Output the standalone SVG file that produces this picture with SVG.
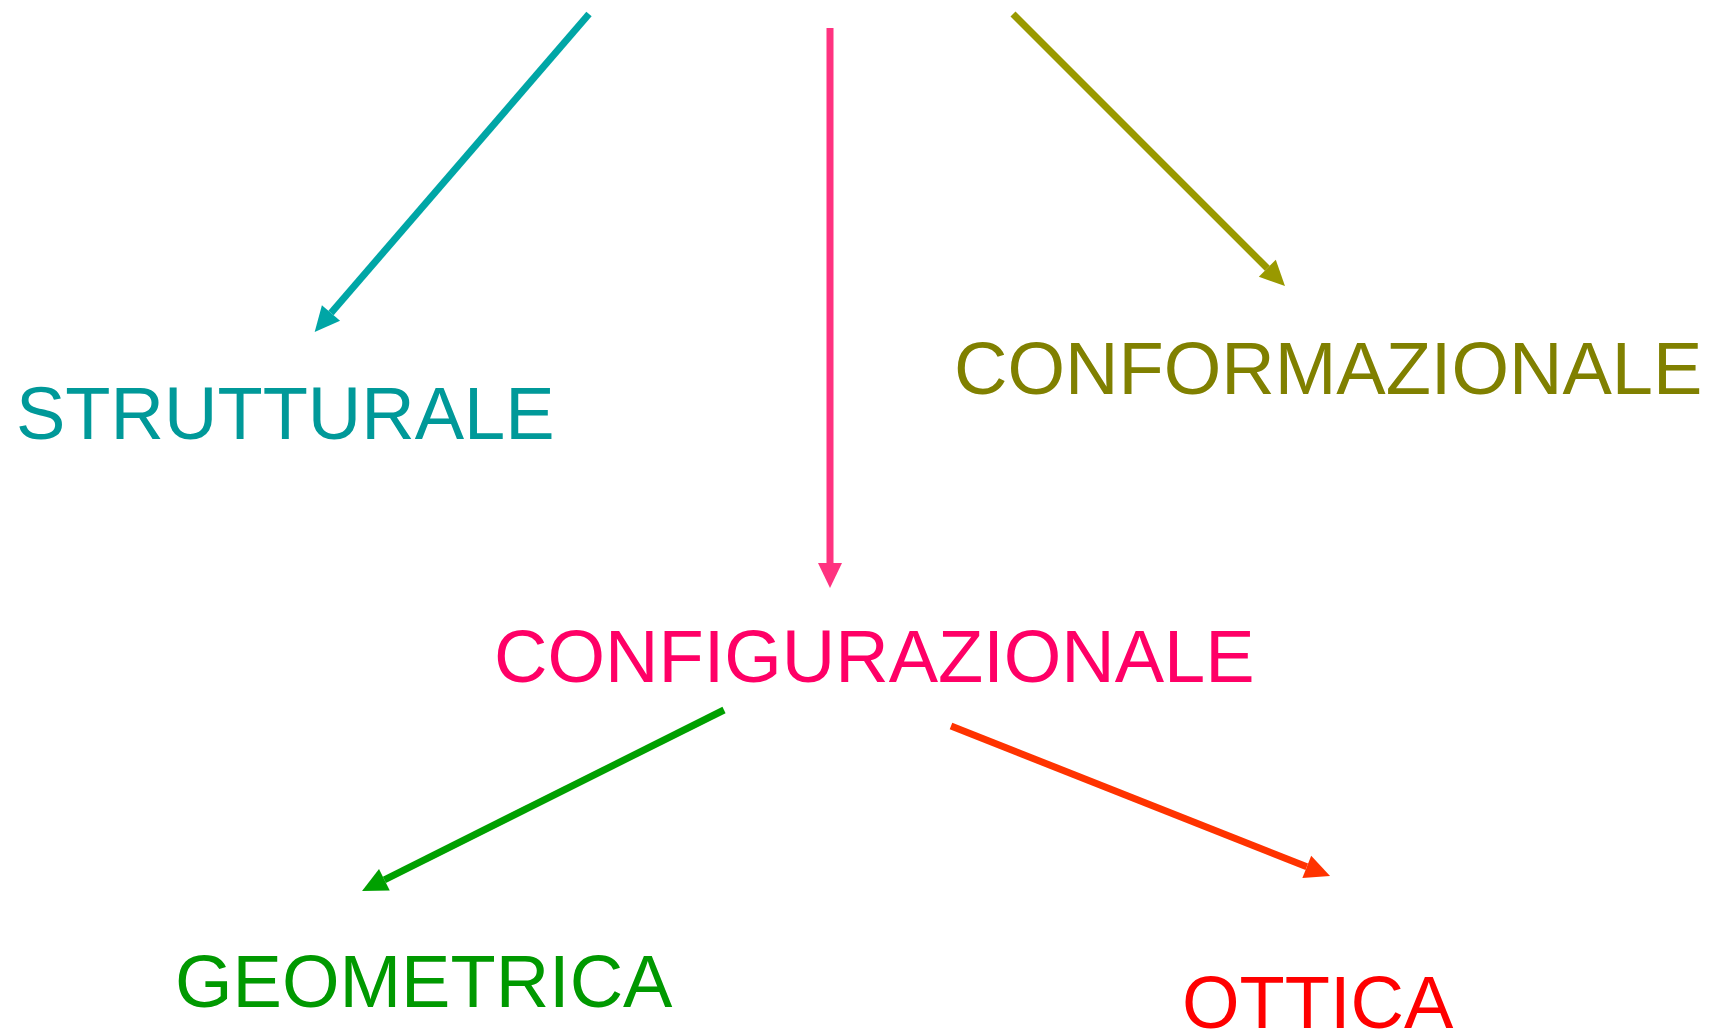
<svg xmlns="http://www.w3.org/2000/svg" width="1711" height="1033" viewBox="0 0 1711 1033">
<style>
  text { font-family: "Liberation Sans", Arial, sans-serif; font-size: 74px; }
  .conn line { stroke-width: 7; fill: none; }
</style>
<defs>
  <marker id="hTeal" markerUnits="userSpaceOnUse" markerWidth="25" markerHeight="24" refX="0" refY="12" orient="auto" overflow="visible"><path d="M0,0 L25,12 L0,24 z" fill="#00A6A6"/></marker>
  <marker id="hOlive" markerUnits="userSpaceOnUse" markerWidth="25" markerHeight="24" refX="0" refY="12" orient="auto" overflow="visible"><path d="M0,0 L25,12 L0,24 z" fill="#999900"/></marker>
  <marker id="hPink" markerUnits="userSpaceOnUse" markerWidth="25" markerHeight="24" refX="0" refY="12" orient="auto" overflow="visible"><path d="M0,0 L25,12 L0,24 z" fill="#FF3380"/></marker>
  <marker id="hGreen" markerUnits="userSpaceOnUse" markerWidth="25" markerHeight="24" refX="0" refY="12" orient="auto" overflow="visible"><path d="M0,0 L25,12 L0,24 z" fill="#00A000"/></marker>
  <marker id="hRed" markerUnits="userSpaceOnUse" markerWidth="25" markerHeight="24" refX="0" refY="12" orient="auto" overflow="visible"><path d="M0,0 L25,12 L0,24 z" fill="#FF3300"/></marker>
</defs>
<rect width="1711" height="1033" fill="#ffffff"/>
<g id="connectors" class="conn">
  <line x1="589" y1="14" x2="331" y2="313" stroke="#00A6A6" marker-end="url(#hTeal)"/>
  <line x1="1013" y1="14" x2="1267.3" y2="268.3" stroke="#999900" marker-end="url(#hOlive)"/>
  <line x1="830" y1="28" x2="830" y2="563" stroke="#FF3380" marker-end="url(#hPink)"/>
  <line x1="724" y1="710" x2="384.4" y2="879.8" stroke="#00A000" marker-end="url(#hGreen)"/>
  <line x1="951" y1="726" x2="1306.8" y2="866.8" stroke="#FF3300" marker-end="url(#hRed)"/>
</g>
<g id="strutturale"><text x="16" y="439" fill="#009999">STRUTTURALE</text></g>
<g id="conformazionale"><text x="954" y="394" fill="#808000">CONFORMAZIONALE</text></g>
<g id="configurazionale"><text x="494" y="682" fill="#FF0066">CONFIGURAZIONALE</text></g>
<g id="geometrica"><text x="175" y="1007" fill="#009900">GEOMETRICA</text></g>
<g id="ottica"><text x="1182" y="1028" fill="#FF0000">OTTICA</text></g>
</svg>
